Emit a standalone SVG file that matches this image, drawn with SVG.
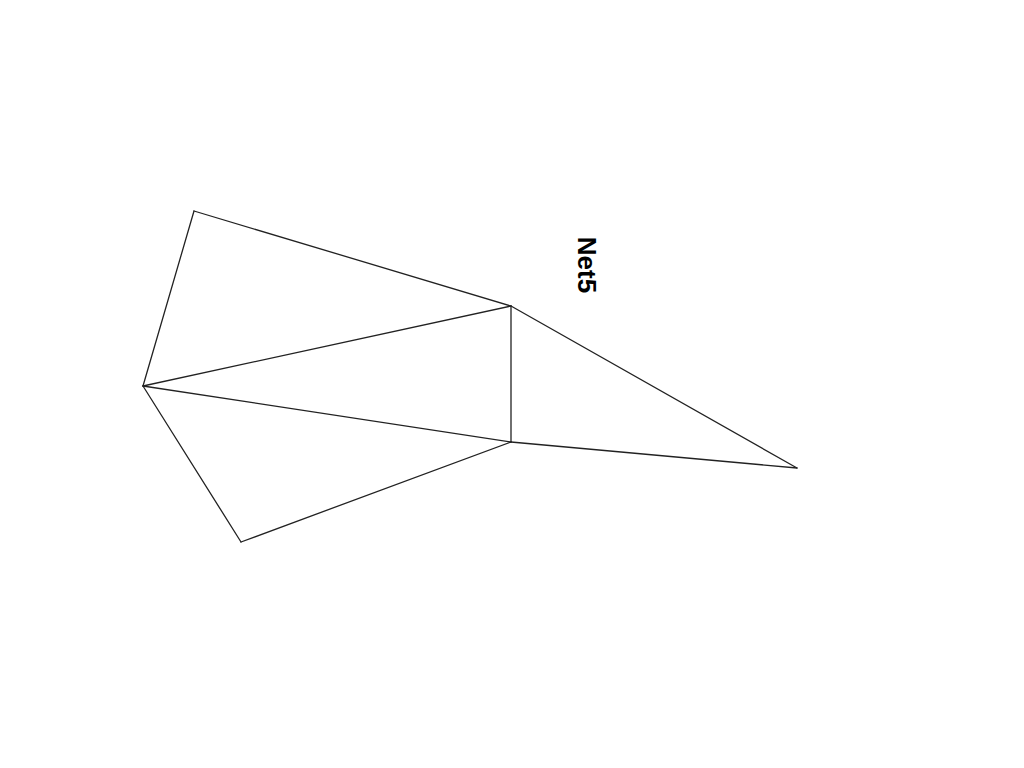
<svg xmlns="http://www.w3.org/2000/svg" width="1024" height="768" viewBox="0 0 1024 768">
<style>
.e{stroke:#222;stroke-width:1.3;fill:none;stroke-linecap:round}
.lbl{font-family:"Liberation Sans",Arial,sans-serif;font-size:26px;font-weight:bold;fill:#000}
</style>
<rect width="1024" height="768" fill="#fff"/>
<g id="edges">
<line class="e" x1="194" y1="211" x2="511" y2="306"/>
<line class="e" x1="194" y1="211" x2="143" y2="386"/>
<line class="e" x1="143" y1="386" x2="511" y2="306"/>
<line class="e" x1="143" y1="386" x2="511" y2="442"/>
<line class="e" x1="143" y1="386" x2="241" y2="542"/>
<line class="e" x1="241" y1="542" x2="511" y2="442"/>
<line class="e" x1="511" y1="306" x2="511" y2="442"/>
<line class="e" x1="511" y1="306" x2="797" y2="468"/>
<line class="e" x1="511" y1="442" x2="797" y2="468"/>
</g>
<g id="label-net5">
<text class="lbl" transform="translate(578,265) rotate(90)" text-anchor="middle">Net5</text>
</g>
</svg>
